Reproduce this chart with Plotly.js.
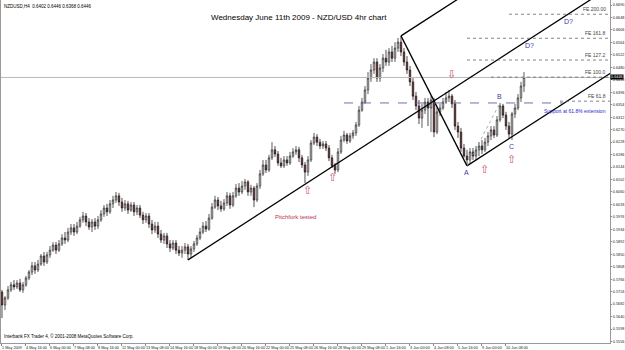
<!DOCTYPE html>
<html><head><meta charset="utf-8">
<script src="https://cdn.plot.ly/plotly-3.0.1.min.js"></script>
<style>html,body{margin:0;padding:0;background:#fff;}#chart{width:625px;height:350px;}</style>
</head><body><div id="chart"></div>
<script>
// ---- data (NZD/USD 4h bars, 1 May 2009 08:00 -> 11 Jun 2009) ----
const openP = [0.5723,0.5679,0.5703,0.5730,0.5747,0.5740,0.5753,0.5730,0.5747,0.5770,
0.5790,0.5811,0.5797,0.5817,0.5844,0.5824,0.5848,0.5864,0.5881,0.5864,
0.5885,0.5905,0.5898,0.5925,0.5939,0.5925,0.5945,0.5966,0.5979,0.5959,
0.5942,0.5959,0.5945,0.5966,0.5986,0.6006,0.5993,0.6020,0.6033,0.6047,
0.6026,0.6006,0.6020,0.5999,0.6016,0.5993,0.6006,0.5982,0.5966,0.5979,
0.5952,0.5932,0.5945,0.5918,0.5898,0.5912,0.5885,0.5871,0.5888,0.5864,
0.5854,0.5864,0.5875,0.5851,0.5868,0.5885,0.5905,0.5925,0.5945,0.5935,
0.5972,0.6009,0.6033,0.6013,0.6003,0.6023,0.6047,0.6016,0.6047,0.6073,
0.6060,0.6080,0.6094,0.6060,0.6073,0.6033,0.6080,0.6121,0.6151,0.6134,
0.6175,0.6202,0.6188,0.6158,0.6148,0.6168,0.6158,0.6181,0.6195,0.6202,
0.6175,0.6151,0.6127,0.6168,0.6225,0.6245,0.6228,0.6215,0.6222,0.6208,
0.6175,0.6148,0.6134,0.6195,0.6235,0.6252,0.6232,0.6249,0.6259,0.6286,
0.6336,0.6363,0.6404,0.6444,0.6471,0.6498,0.6444,0.6478,0.6511,0.6498,
0.6532,0.6511,0.6545,0.6565,0.6532,0.6498,0.6471,0.6431,0.6383,0.6350,
0.6309,0.6336,0.6363,0.6343,0.6370,0.6262,0.6330,0.6343,0.6363,0.6377,
0.6383,0.6357,0.6282,0.6262,0.6208,0.6181,0.6168,0.6195,0.6181,0.6202,
0.6215,0.6202,0.6228,0.6249,0.6269,0.6252,0.6303,0.6350,0.6319,0.6282,
0.6255,0.6323,0.6343,0.6377,0.6417];
const highP = [0.5730,0.5709,0.5743,0.5757,0.5763,0.5763,0.5767,0.5757,0.5777,0.5797,
0.5824,0.5824,0.5831,0.5851,0.5858,0.5858,0.5878,0.5891,0.5891,0.5898,
0.5918,0.5925,0.5939,0.5952,0.5952,0.5959,0.5976,0.5993,0.5989,0.5972,
0.5969,0.5972,0.5979,0.5999,0.6016,0.6020,0.6033,0.6047,0.6060,0.6057,
0.6040,0.6033,0.6030,0.6026,0.6026,0.6016,0.6016,0.5993,0.5989,0.5989,
0.5966,0.5959,0.5959,0.5932,0.5922,0.5922,0.5898,0.5898,0.5898,0.5878,
0.5878,0.5888,0.5885,0.5878,0.5895,0.5915,0.5939,0.5959,0.5962,0.5986,
0.6023,0.6047,0.6043,0.6030,0.6036,0.6060,0.6057,0.6060,0.6087,0.6090,
0.6097,0.6104,0.6100,0.6084,0.6080,0.6090,0.6134,0.6168,0.6168,0.6185,
0.6228,0.6215,0.6198,0.6175,0.6181,0.6181,0.6195,0.6208,0.6215,0.6212,
0.6185,0.6161,0.6181,0.6235,0.6259,0.6255,0.6239,0.6232,0.6232,0.6218,
0.6185,0.6158,0.6208,0.6249,0.6266,0.6259,0.6259,0.6269,0.6296,0.6350,
0.6377,0.6417,0.6464,0.6491,0.6511,0.6511,0.6491,0.6525,0.6539,0.6545,
0.6552,0.6565,0.6579,0.6586,0.6545,0.6518,0.6485,0.6444,0.6397,0.6370,
0.6357,0.6377,0.6377,0.6383,0.6377,0.6343,0.6357,0.6377,0.6397,0.6404,
0.6390,0.6370,0.6296,0.6276,0.6222,0.6202,0.6208,0.6208,0.6215,0.6228,
0.6235,0.6242,0.6262,0.6282,0.6282,0.6316,0.6360,0.6357,0.6330,0.6296,
0.6330,0.6357,0.6390,0.6431,0.6464];
const lowP = [0.5635,0.5662,0.5696,0.5723,0.5730,0.5733,0.5723,0.5720,0.5740,0.5763,
0.5780,0.5784,0.5790,0.5811,0.5811,0.5817,0.5838,0.5858,0.5851,0.5858,
0.5878,0.5885,0.5891,0.5915,0.5912,0.5918,0.5939,0.5956,0.5945,0.5932,
0.5925,0.5932,0.5935,0.5959,0.5976,0.5979,0.5986,0.6006,0.6023,0.6013,
0.5993,0.5996,0.5986,0.5993,0.5979,0.5982,0.5972,0.5952,0.5956,0.5939,
0.5918,0.5922,0.5905,0.5888,0.5885,0.5871,0.5858,0.5864,0.5851,0.5844,
0.5838,0.5851,0.5831,0.5838,0.5858,0.5878,0.5898,0.5918,0.5925,0.5929,
0.5966,0.6003,0.5999,0.5993,0.5996,0.6013,0.6003,0.6009,0.6040,0.6047,
0.6053,0.6067,0.6047,0.6047,0.6009,0.6026,0.6070,0.6114,0.6124,0.6127,
0.6168,0.6178,0.6148,0.6141,0.6141,0.6148,0.6151,0.6175,0.6185,0.6161,
0.6141,0.6090,0.6114,0.6161,0.6218,0.6215,0.6205,0.6205,0.6198,0.6164,
0.6141,0.6121,0.6127,0.6188,0.6228,0.6222,0.6225,0.6239,0.6249,0.6279,
0.6330,0.6357,0.6390,0.6431,0.6458,0.6431,0.6431,0.6464,0.6485,0.6485,
0.6498,0.6498,0.6532,0.6518,0.6485,0.6458,0.6417,0.6370,0.6336,0.6289,
0.6276,0.6323,0.6282,0.6262,0.6245,0.6255,0.6316,0.6336,0.6357,0.6363,
0.6343,0.6269,0.6242,0.6195,0.6175,0.6148,0.6154,0.6168,0.6168,0.6181,
0.6188,0.6195,0.6215,0.6235,0.6242,0.6245,0.6296,0.6309,0.6269,0.6242,
0.6235,0.6309,0.6336,0.6363,0.6397];
const closeP = [0.5679,0.5703,0.5730,0.5747,0.5740,0.5753,0.5730,0.5747,0.5770,0.5790,
0.5811,0.5797,0.5817,0.5844,0.5824,0.5848,0.5864,0.5881,0.5864,0.5885,
0.5905,0.5898,0.5925,0.5939,0.5925,0.5945,0.5966,0.5979,0.5959,0.5942,
0.5959,0.5945,0.5966,0.5986,0.6006,0.5993,0.6020,0.6033,0.6047,0.6026,
0.6006,0.6020,0.5999,0.6016,0.5993,0.6006,0.5982,0.5966,0.5979,0.5952,
0.5932,0.5945,0.5918,0.5898,0.5912,0.5885,0.5871,0.5888,0.5864,0.5854,
0.5864,0.5875,0.5851,0.5868,0.5885,0.5905,0.5925,0.5945,0.5935,0.5972,
0.6009,0.6033,0.6013,0.6003,0.6023,0.6047,0.6016,0.6047,0.6073,0.6060,
0.6080,0.6094,0.6060,0.6073,0.6033,0.6080,0.6121,0.6151,0.6134,0.6175,
0.6202,0.6188,0.6158,0.6148,0.6168,0.6158,0.6181,0.6195,0.6202,0.6175,
0.6151,0.6127,0.6168,0.6225,0.6245,0.6228,0.6215,0.6222,0.6208,0.6175,
0.6148,0.6134,0.6195,0.6235,0.6252,0.6232,0.6249,0.6259,0.6286,0.6336,
0.6363,0.6404,0.6444,0.6471,0.6498,0.6444,0.6478,0.6511,0.6498,0.6532,
0.6511,0.6545,0.6565,0.6532,0.6498,0.6471,0.6431,0.6383,0.6350,0.6309,
0.6336,0.6363,0.6343,0.6370,0.6262,0.6330,0.6343,0.6363,0.6377,0.6383,
0.6357,0.6282,0.6262,0.6208,0.6181,0.6168,0.6195,0.6181,0.6202,0.6215,
0.6202,0.6228,0.6249,0.6269,0.6252,0.6303,0.6350,0.6319,0.6282,0.6255,
0.6323,0.6343,0.6377,0.6417,0.6446];

const xTickBars = [0,8,16,24,32,40,48,56,64,72,80,88,96,104,112,120,128,136,144,152,160,168];
const xTickLabels = ["1 May 2009","4 May 16:00","6 May 00:00","7 May 08:00","8 May 16:00","12 May 00:00",
"13 May 08:00","14 May 16:00","18 May 00:00","19 May 08:00","20 May 16:00","22 May 00:00","25 May 08:00",
"26 May 16:00","28 May 00:00","29 May 08:00","1 Jun 16:00","3 Jun 00:00","4 Jun 08:00","5 Jun 16:00",
"9 Jun 00:00","10 Jun 08:00"];
const yTickVals = [0.6690,0.6648,0.6606,0.6564,0.6522,0.6480,0.6438,0.6396,0.6354,0.6312,0.6270,0.6228,
0.6186,0.6144,0.6102,0.6060,0.6018,0.5976,0.5934,0.5892,0.5850,0.5808,0.5766,0.5724,0.5682,0.5640,0.5598,0.5556];
const yTickLabels = yTickVals.map(v => v.toFixed(4));

// Andrews pitchfork pivots: handle (low), high, point A
const pfBars = [62, 133, 155];
const pfPrices = [0.5831, 0.6586, 0.6148];
// Fibonacci expansion points A, B, C
const abcBars = [155, 166, 170];
const abcPrices = [0.6148, 0.6360, 0.6235];
const abcNames = ["A", "B", "C"];
const feLevels = [61.8, 100.0, 127.2, 161.8, 200.0];
const feNames = ["FE 61.8", "FE 100.0", "FE 127.2", "FE 161.8", "FE 200.00"];
const feStartBars = [186, 163, 155, 155, 169];
const supportLevel = 0.6360;
const arrowsUp = [[102, 0.6065], [110.3, 0.6110], [161, 0.6136], [169.7, 0.6170]];
const arrowsDown = [[150, 0.6456]];

const N = closeP.length;
const bars = closeP.map((_, i) => i);
const X0 = -0.33, X1 = 202.67;
const Y0 = 0.5551, Y1 = 0.6707;
const FONT = "Liberation Sans, Arial, sans-serif";

const shapes = [];
const annotations = [];
// current price line
shapes.push({type:'line', xref:'paper', x0:0, x1:1, yref:'y', y0:closeP[N-1], y1:closeP[N-1], line:{color:'#b8b8b8', width:1}});
// pitchfork
const midX = (pfBars[1]+pfBars[2])/2, midY = (pfPrices[1]+pfPrices[2])/2;
const slope = (midY - pfPrices[0])/(midX - pfBars[0]);
function ext(x, y){ return {x0:x, y0:y, x1:X1+20, y1:y + slope*(X1+20-x)}; }
[[pfBars[0],pfPrices[0]],[pfBars[1],pfPrices[1]],[pfBars[2],pfPrices[2]]].forEach(p=>{
  const e = ext(p[0], p[1]);
  shapes.push(Object.assign({type:'line', xref:'x', yref:'y', line:{color:'#000', width:1.3}}, e));
});
shapes.push({type:'line', xref:'x', yref:'y', x0:pfBars[1], y0:pfPrices[1], x1:pfBars[2], y1:pfPrices[2], line:{color:'#000', width:1.3}});
// A-B thin dotted
shapes.push({type:'line', xref:'x', yref:'y', x0:abcBars[0], y0:abcPrices[0], x1:abcBars[1], y1:abcPrices[1], line:{color:'#999', width:0.8, dash:'dot'}});
// FE levels
const ab = abcPrices[1]-abcPrices[0];
feLevels.forEach((lv, k) => {
  const y = abcPrices[2] + ab*lv/100;
  shapes.push({type:'line', xref:'x', yref:'y', x0:feStartBars[k], x1:X1, y0:y, y1:y, line:{color:'#666', width:0.8, dash:'dot'}});
  annotations.push({xref:'paper', x:0.997, xanchor:'right', yref:'y', y:y, yanchor:'bottom', text:feNames[k], showarrow:false, font:{family:FONT, size:5, color:'#444'}});
});
// support dashed line
shapes.push({type:'line', xref:'x', yref:'y', x0:114, x1:187, y0:supportLevel, y1:supportLevel, line:{color:'#7070a8', width:1, dash:'dash'}});
annotations.push({xref:'paper', x:0.997, xanchor:'right', yref:'y', y:supportLevel, yanchor:'top', yshift:-3, text:'Support at 61.8% extension', showarrow:false, font:{family:FONT, size:5, color:'#2a2ad0'}});
// ABC labels
abcNames.forEach((n,k)=>{
  annotations.push({xref:'x', x:abcBars[k], yref:'y', y:abcPrices[k], yanchor: k===1?'bottom':'top', yshift: k===1?1:-1, text:n, showarrow:false, font:{family:FONT, size:7, color:'#3c3ca0'}});
});
// D? labels
annotations.push({xref:'x', x:176, yref:'y', y:0.6552, text:'D?', showarrow:false, font:{family:FONT, size:7, color:'#3c3ca0'}});
annotations.push({xref:'x', x:189, yref:'y', y:0.6636, text:'D?', showarrow:false, font:{family:FONT, size:7, color:'#3c3ca0'}});
// arrows
arrowsUp.forEach(a=>annotations.push({xref:'x', x:a[0], yref:'y', y:a[1], text:'\u21E7', showarrow:false, font:{family:'DejaVu Sans', size:11, color:'#d05070'}}));
arrowsDown.forEach(a=>annotations.push({xref:'x', x:a[0], yref:'y', y:a[1], text:'\u21E9', showarrow:false, font:{family:'DejaVu Sans', size:11, color:'#d05070'}}));
// x tick labels (left aligned at their tick, as in MT4)
xTickBars.forEach((b,k)=>annotations.push({xref:'x', x:b, xanchor:'left', xshift:-2, yref:'paper', y:0, yanchor:'top', yshift:-1, text:xTickLabels[k], showarrow:false, font:{family:FONT, size:3.8, color:'#222'}}));
// texts
annotations.push({xref:'x', x:98, yref:'y', y:0.5974, text:'Pitchfork tested', showarrow:false, font:{family:FONT, size:6, color:'#c03050'}});
annotations.push({xref:'paper', x:0.49, yref:'paper', y:0.948, yanchor:'middle', text:'Wednesday June 11th 2009 - NZD/USD 4hr chart', showarrow:false, font:{family:FONT, size:8, color:'#000'}});
annotations.push({xref:'paper', x:0.002, xanchor:'left', yref:'paper', y:0.995, yanchor:'top', text:'NZDUSD,H4  0.6402 0.6446 0.6368 0.6446', showarrow:false, font:{family:FONT, size:4.5, color:'#000'}});
annotations.push({xref:'paper', x:0.002, xanchor:'left', yref:'paper', y:0.005, yanchor:'bottom', text:'Interbank FX Trader 4, \u00A9 2001-2008 MetaQuotes Software Corp.', showarrow:false, font:{family:FONT, size:4.5, color:'#000'}});
annotations.push({xref:'paper', x:1, xanchor:'left', xshift:0, yref:'y', y:closeP[N-1], text:closeP[N-1].toFixed(4), showarrow:false, bgcolor:'#000', borderpad:0, font:{family:FONT, size:3.8, color:'#fff'}});

const trace = {
  type:'candlestick', x:bars, open:openP, high:highP, low:lowP, close:closeP,
  increasing:{line:{color:'#333', width:0.8}, fillcolor:'#ffffff'},
  decreasing:{line:{color:'#222', width:0.8}, fillcolor:'#8b1a1a'},
  whiskerwidth:0, hoverinfo:'skip'
};

const layout = {
  width:625, height:350,
  margin:{l:1, r:15, t:0, b:7, pad:0},
  paper_bgcolor:'#fff', plot_bgcolor:'#fff',
  showlegend:false,
  font:{family:FONT},
  xaxis:{range:[X0,X1], rangeslider:{visible:false}, tickvals:xTickBars, showticklabels:false,
    ticks:'outside', ticklen:2, tickcolor:'#888', showgrid:false, zeroline:false,
    showline:true, linecolor:'#999', linewidth:1, mirror:true},
  yaxis:{range:[Y0,Y1], side:'right', tickvals:yTickVals, ticktext:yTickLabels,
    ticks:'outside', ticklen:1, tickcolor:'#888', tickfont:{size:3.8, color:'#222'},
    showgrid:false, zeroline:false, showline:true, linecolor:'#999', linewidth:1, mirror:true},
  shapes:shapes, annotations:annotations
};
Plotly.newPlot('chart', [trace], layout, {staticPlot:true, displayModeBar:false});
</script></body></html>
